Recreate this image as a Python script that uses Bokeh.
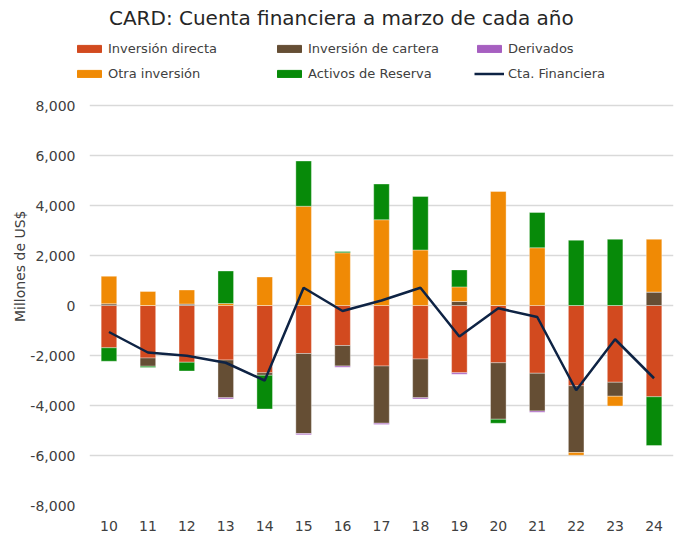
from bokeh.plotting import figure
from bokeh.layouts import column
from bokeh.models import (ColumnDataSource, FactorRange, Range1d, Legend, LegendItem,
                          NumeralTickFormatter, FixedTicker, Label, Title)
from bokeh.embed import file_html
from bokeh.resources import INLINE

years = ["10", "11", "12", "13", "14", "15", "16", "17", "18", "19", "20", "21", "22", "23", "24"]
directa = [-1690, -2100, -2270, -2180, -2690, -1920, -1600, -2420, -2140, -2690, -2290, -2710, -3210, -3070, -3650]
cartera = [70, -330, 60, -1510, -100, -3200, -820, -2290, -1550, 160, -2260, -1510, -2670, -560, 540]
derivados = [0, 0, 0, -50, 0, -50, -50, -50, -50, -60, 0, -50, 0, 0, 0]
otra = [1100, 560, 560, 80, 1140, 3970, 2110, 3430, 2220, 585, 4560, 2310, -110, -390, 2110]
reserva = [-540, -50, -350, 1300, -1350, 1810, 50, 1430, 2140, 680, -160, 1410, 2610, 2650, -1950]
cta = [-1060, -1880, -2010, -2290, -3000, 710, -220, 200, 710, -1240, -110, -460, -3390, -1350, -2910]

names = ["Inversión directa", "Inversión de cartera", "Derivados", "Otra inversión", "Activos de Reserva"]
colors = ["#D24A1F", "#654E34", "#A65FC0", "#F08A05", "#078A09"]
line_name = "Cta. Financiera"
line_color = "#0E2344"
title_text = "CARD:  Cuenta financiera a marzo de cada año"
y_label = "Millones de US$"
y_ticks = [-8000, -6000, -4000, -2000, 0, 2000, 4000, 6000, 8000]
series = [directa, cartera, derivados, otra, reserva]

FONT = "DejaVu Sans"
W = 679
HEAD_H = 92

# ---------- header: title + legend ----------
head = figure(width=W, height=HEAD_H, x_range=FactorRange(factors=years),
              y_range=Range1d(HEAD_H, 0),
              output_backend="svg", toolbar_location=None,
              x_axis_location=None, y_axis_location=None,
              min_border_left=0, min_border_right=0, min_border_top=0, min_border_bottom=0)
if "frame_align" in head.properties():
    head.frame_align = False
head.title = None
head.outline_line_color = None
head.xgrid.grid_line_color = None
head.ygrid.grid_line_color = None

# hidden copies of the series, used only to draw the legend swatches
head_renderers = []
for vals, col in zip(series, colors):
    head_renderers.append(head.vbar(x=years, top=vals, width=0.4, fill_color=col,
                                    line_color=col, visible=False))
head_line = head.line(years, cta, line_color=line_color, line_width=2.5, visible=False)

items = [LegendItem(label=n, renderers=[r]) for n, r in zip(names, head_renderers)]
items.append(LegendItem(label=line_name, renderers=[head_line]))
legend = Legend(items=items, orientation="horizontal", ncols=3,
                location=(74, 9), border_line_color=None, background_fill_alpha=0,
                inactive_fill_alpha=0,
                label_text_font=FONT, label_text_font_size="13px", label_text_color="#404040",
                glyph_width=30, glyph_height=9, label_standoff=4, label_width=161,
                label_height=20, spacing=5, padding=0, margin=0)
head.add_layout(legend, "center")
head.add_layout(Label(x=344 / (W / len(years)), y=17, text=title_text, text_align="center",
                      text_baseline="middle", text_font=FONT, text_font_size="20px",
                      text_color="#262626"))

# ---------- chart ----------
p = figure(width=W, height=450, x_range=FactorRange(factors=years),
           y_range=Range1d(-8000, 8520), output_backend="svg", toolbar_location=None,
           min_border_left=89, min_border_right=6, min_border_top=0, min_border_bottom=37)
if "frame_align" in p.properties():
    p.frame_align = False
p.title = None
p.outline_line_color = None

p.xgrid.grid_line_color = None
p.ygrid.grid_line_color = "#D9D9D9"
p.ygrid.grid_line_width = 1.5

p.yaxis.ticker = FixedTicker(ticks=y_ticks)
p.yaxis.formatter = NumeralTickFormatter(format="0,0")
for ax in (p.xaxis, p.yaxis):
    ax.axis_line_color = None
    ax.major_tick_line_color = None
    ax.minor_tick_line_color = None
    ax.major_tick_out = 0
    ax.major_label_text_font = FONT
    ax.major_label_text_font_size = "14px"
    ax.major_label_text_color = "#404040"
p.yaxis.major_label_standoff = 14
p.xaxis.major_label_standoff = 15

p.add_layout(Title(text=y_label, align="right", offset=118, text_font=FONT,
                   text_font_size="14px", text_font_style="normal",
                   text_color="#404040", standoff=0), "left")

pos = [0] * len(years)
neg = [0] * len(years)
for name, vals, col in zip(names, series, colors):
    tops, bots = [], []
    for i, v in enumerate(vals):
        if v >= 0:
            bots.append(pos[i]); pos[i] += v; tops.append(pos[i])
        else:
            tops.append(neg[i]); neg[i] += v; bots.append(neg[i])
    src = ColumnDataSource(dict(x=years, top=tops, bottom=bots))
    p.vbar(x="x", top="top", bottom="bottom", width=0.4, source=src,
           fill_color=col, line_color="white", line_alpha=0.35, line_width=1)

p.line(years, cta, line_color=line_color, line_width=2.5)

layout = column(head, p, spacing=0)
open("out.html", "w").write(file_html(layout, INLINE))
